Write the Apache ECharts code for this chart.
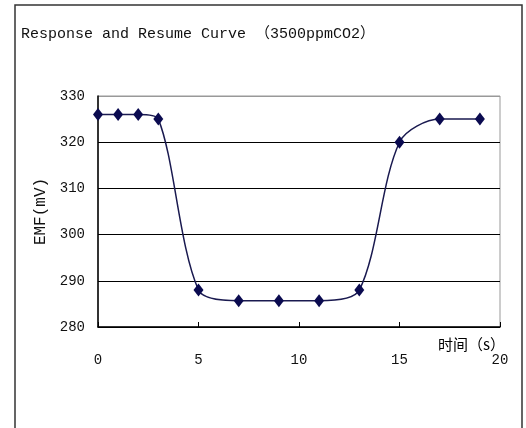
<!DOCTYPE html>
<html>
<head>
<meta charset="utf-8">
<script src="https://cdn.jsdelivr.net/npm/echarts@6/dist/echarts.min.js"></script>
<style>
  html, body { margin: 0; padding: 0; background: #fff; }
  #chart { width: 526px; height: 428px; }
</style>
</head>
<body>
<div id="chart"></div>
<script>
  // 时间 (s) 与 EMF (mV)
  var timeList = [0, 1, 2, 3, 5, 7, 9, 11, 13, 15, 17, 19]
  var emfList = [326, 326, 326, 325, 288, 285.7, 285.7, 285.7, 288, 320, 325, 325]
  var titleText = 'Response and Resume Curve （3500ppmCO2）'
  var yName = 'EMF(mV)'
  var xName = '时间（s）'

  var labelFont = 'Liberation Mono, monospace'
  var points = timeList.map(function (t, i) { return [t, emfList[i]] })

  var chart = echarts.init(document.getElementById('chart'))
  chart.setOption({
    animation: false,
    backgroundColor: '#fff',
    title: {
      text: titleText,
      left: 16,
      top: 22,
      textStyle: { fontFamily: labelFont + ', Noto Sans CJK SC', fontSize: 15, fontWeight: 'normal', color: '#111' }
    },
    graphic: [
      {
        type: 'rect',
        shape: { x: 15, y: 5, width: 507, height: 460 },
        style: { fill: 'none', stroke: '#333', lineWidth: 1.5 },
        silent: true
      }
    ],
    grid: {
      left: 98,
      right: 26,
      top: 96,
      bottom: 101,
      show: true,
      borderColor: '#999',
      borderWidth: 1,
      containLabel: false,
      outerBoundsMode: 'none'
    },
    xAxis: {
      type: 'value',
      min: 0,
      max: 20,
      interval: 5,
      name: xName,
      nameLocation: 'end',
      nameGap: 5,
      nameTextStyle: {
        fontFamily: 'Noto Sans CJK SC',
        fontSize: 15,
        color: '#000',
        align: 'right',
        verticalAlign: 'top',
        padding: [10, 0, 0, 0]
      },
      axisLine: { lineStyle: { color: '#000', width: 1.5 } },
      axisTick: { inside: true, length: 5, lineStyle: { color: '#000' } },
      axisLabel: { fontFamily: labelFont, fontSize: 14, color: '#111', margin: 26 },
      splitLine: { show: false }
    },
    yAxis: {
      type: 'value',
      min: 280,
      max: 330,
      interval: 10,
      name: yName,
      nameLocation: 'middle',
      nameGap: 48,
      nameRotate: 90,
      nameTextStyle: { fontFamily: labelFont, fontSize: 16, color: '#111' },
      axisLine: { show: true, lineStyle: { color: '#000', width: 1.5 } },
      axisTick: { show: false },
      axisLabel: { fontFamily: labelFont, fontSize: 14, color: '#111', margin: 13 },
      splitLine: {
        show: true,
        lineStyle: { color: ['#000', '#000', '#000', '#000', '#000', '#999'], width: 1.2 }
      }
    },
    series: [
      {
        type: 'line',
        data: points,
        smooth: 0.3,
        symbol: 'diamond',
        symbolSize: [10, 13],
        itemStyle: { color: '#0b0b50' },
        lineStyle: { color: '#1a1a50', width: 1.5 }
      }
    ]
  })
</script>
</body>
</html>
